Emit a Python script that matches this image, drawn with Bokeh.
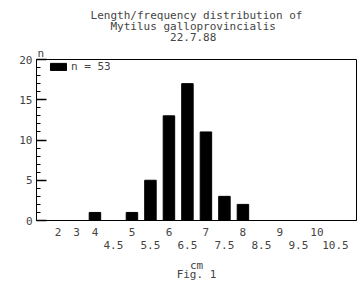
from bokeh.plotting import figure
from bokeh.models import (ColumnDataSource, Range1d, FixedTicker, SingleIntervalTicker,
                          LinearAxis, Legend, LegendItem, Title)
from bokeh.embed import file_html
from bokeh.resources import INLINE

# ---- data ----
categories = ["2", "3", "4", "4.5", "5", "5.5", "6", "6.5", "7", "7.5",
              "8", "8.5", "9", "9.5", "10", "10.5"]
counts = [0, 0, 1, 0, 1, 5, 13, 17, 11, 3, 2, 0, 0, 0, 0, 0]
title_lines = ["Length/frequency distribution of", "Mytilus galloprovincialis", "22.7.88"]
y_label = "n"
x_label = "cm"
caption = "Fig. 1"
legend_label = "n = 53"

FONT = "DejaVu Sans Mono"
FS = "11px"
NB = "\u00a0"

idx = list(range(len(categories)))
src = ColumnDataSource(dict(x=idx, top=counts))

p = figure(width=360, height=284, output_backend="svg", toolbar_location=None,
           x_range=Range1d(-1.16, 16.14), y_range=Range1d(0, 20),
           min_border_left=36, min_border_right=4, min_border_top=59, min_border_bottom=0,
           title=None)
p.background_fill_color = "white"
p.border_fill_color = "white"
p.outline_line_color = "black"
p.outline_line_width = 1
p.grid.visible = False

r = p.vbar(x="x", top="top", width=0.62, source=src, fill_color="black", line_color="black")

# y axis: inward ticks
ya = p.yaxis[0]
ya.ticker = SingleIntervalTicker(interval=5, num_minor_ticks=5)
ya.major_tick_in = 10
ya.major_tick_out = 0
ya.minor_tick_in = 4
ya.minor_tick_out = 0
ya.major_tick_line_color = "black"
ya.minor_tick_line_color = "black"
ya.major_tick_line_width = 1.5
ya.minor_tick_line_width = 1
ya.major_label_standoff = 4
ya.major_label_text_font = FONT
ya.major_label_text_font_size = FS
ya.axis_line_color = "black"

int_ticks = [i for i, c in enumerate(categories) if "." not in c]
half_ticks = [i for i, c in enumerate(categories) if "." in c]

xa = p.xaxis[0]
xa.ticker = FixedTicker(ticks=int_ticks)
xa.major_label_overrides = {i: categories[i] for i in int_ticks}
xa.major_tick_line_color = None
xa.minor_tick_line_color = None
xa.major_tick_out = 0
xa.major_tick_in = 0
xa.major_label_standoff = 7
xa.major_label_text_font = FONT
xa.major_label_text_font_size = FS

xa2 = LinearAxis(ticker=FixedTicker(ticks=half_ticks),
                 major_label_overrides={i: categories[i] for i in half_ticks},
                 axis_line_color=None, major_tick_line_color=None, minor_tick_line_color=None,
                 major_tick_out=0, major_tick_in=0, major_label_standoff=2,
                 major_label_text_font=FONT, major_label_text_font_size=FS,
                 axis_label=x_label + "\n" + caption, axis_label_standoff=7,
                 axis_label_text_font=FONT, axis_label_text_font_size=FS,
                 axis_label_text_font_style="normal", axis_label_text_line_height=0.75)
p.add_layout(xa2, "below")

# titles above (first added = nearest the frame)
p.add_layout(Title(text=y_label, align="left", offset=1, text_font=FONT, text_font_size=FS,
                   text_font_style="normal", standoff=0), "above")
pads = [0, 3, 12]
title_text = "\n".join(NB * n + t for n, t in zip(pads, title_lines))
p.add_layout(Title(text=title_text, align="center", text_font=FONT,
                   text_font_size=FS, text_font_style="normal", standoff=1,
                   text_line_height=0.85), "above")

legend = Legend(items=[LegendItem(label=legend_label, renderers=[r])],
                location=(12, 147), margin=0, padding=0,
                border_line_color=None, background_fill_color=None,
                glyph_width=20, glyph_height=9, label_height=9, label_standoff=3,
                label_text_font=FONT, label_text_font_size=FS)
p.add_layout(legend)

open("out.html", "w").write(file_html(p, INLINE))
